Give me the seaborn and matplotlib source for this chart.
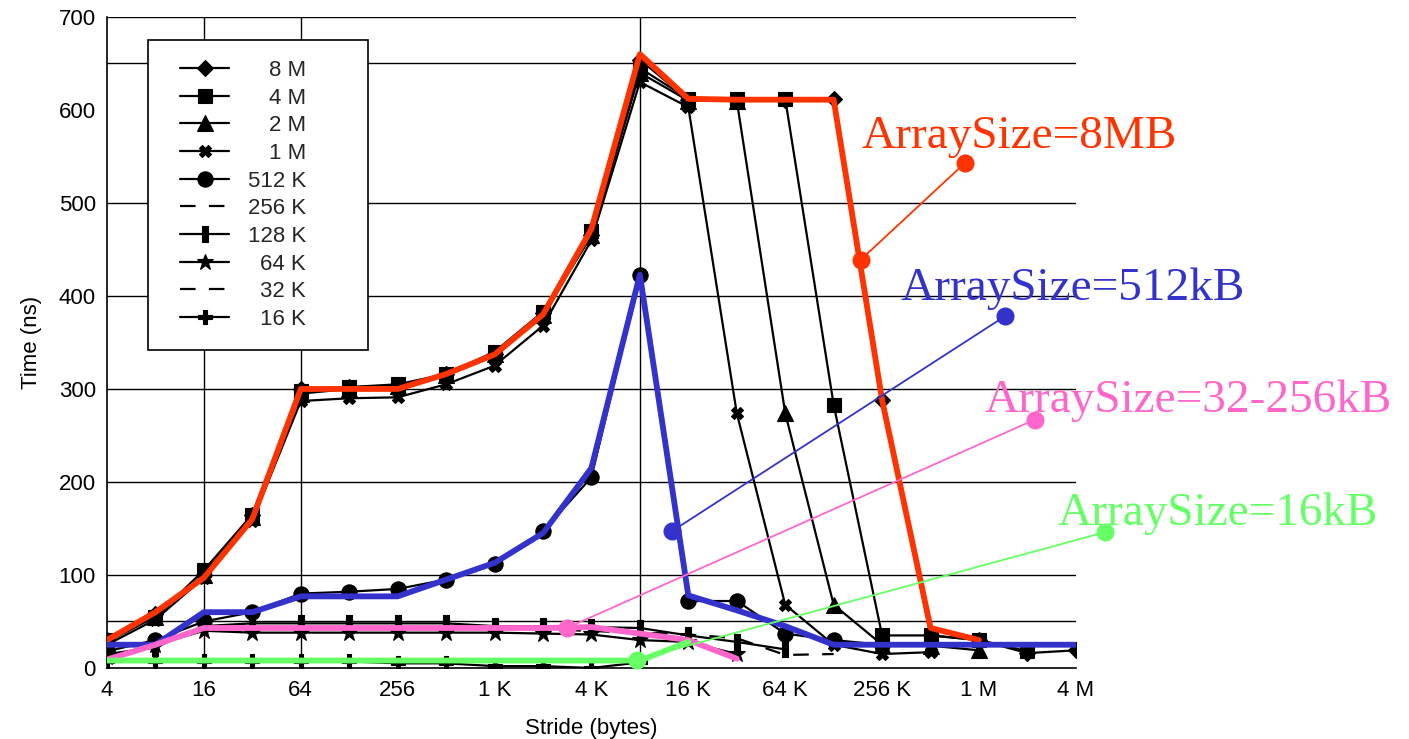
import matplotlib
matplotlib.use("Agg")
import matplotlib.pyplot as plt
import seaborn as sns
import pandas as pd
from matplotlib.path import Path
from matplotlib.lines import Line2D
from matplotlib.legend_handler import HandlerLine2D

# ---------------- data ----------------
strides = [4, 8, 16, 32, 64, 128, 256, 512, 1024, 2048, 4096, 8192, 16384, 32768,
           65536, 131072, 262144, 524288, 1048576, 2097152, 4194304]
tick_labels = ["4", "", "16", "", "64", "", "256", "", "1 K", "", "4 K", "", "16 K", "",
               "64 K", "", "256 K", "", "1 M", "", "4 M"]
size_labels = ["8 M", "4 M", "2 M", "1 M", "512 K", "256 K", "128 K", "64 K", "32 K", "16 K"]

t_8M = [30, 58, 100, 165, 300, 302, 303, 316, 338, 382, 465, 654, 611, 611, 611, 612, 288, 35, 30, 16, 19]
t_4M = [30, 55, 105, 165, 298, 302, 305, 316, 340, 383, 470, 645, 612, 612, 612, 283, 35, 35, 30, 18]
t_2M = [28, 55, 100, 162, 295, 300, 303, 315, 338, 380, 465, 640, 610, 610, 274, 68, 25, 24, 19]
t_1M = [25, 52, 97, 158, 287, 290, 291, 305, 325, 368, 460, 630, 603, 274, 68, 25, 15, 17]
t_512K = [18, 30, 50, 60, 80, 82, 85, 95, 112, 147, 205, 422, 72, 72, 37, 30, 25]
t_256K = [12, 25, 42, 42, 42, 42, 42, 42, 42, 42, 40, 38, 36, 32, 14, 15]
t_128K = [15, 22, 45, 48, 48, 48, 48, 48, 45, 45, 44, 43, 35, 28, 20]
t_64K = [12, 25, 40, 38, 38, 38, 38, 38, 38, 37, 36, 30, 28, 15]
t_32K = [12, 25, 42, 43, 43, 43, 43, 43, 42, 42, 40, 38, 36]
t_16K = [8, 8, 8, 8, 7, 7, 5, 5, 2, 2, 0, 6]

# hand-drawn highlight curves
hl_8MB = [30, 60, 97, 160, 300, 300, 300, 316, 337, 380, 472, 660, 612, 611, 611, 611, 288, 43, 30]
hl_512kB = [25, 25, 60, 60, 77, 77, 77, 95, 113, 145, 215, 423, 78, 62, 45, 25, 25, 25, 25, 25, 25]
hl_32_256kB = [9, 25, 43, 43, 43, 43, 43, 43, 43, 43, 44, 37, 30, 10]
hl_16kB = [8, 8, 8, 8, 8, 8, 8, 8, 8, 8, 8, 8, 28]

# callouts
callout_labels = ["ArraySize=8MB", "ArraySize=512kB", "ArraySize=32-256kB", "ArraySize=16kB"]
callout_anchor_x = [2 ** 17.56, 2 ** 13.66, 2 ** 11.49, 2 ** 12.94]
callout_anchor_y = [439, 147, 43, 9]
callout_end_x = [2 ** 19.71, 2 ** 20.53, 2 ** 21.15, 2 ** 22.6]
callout_end_y = [543, 378, 267, 146]
callout_text_x = [2 ** 17.58, 2 ** 18.37, 2 ** 20.12, 2 ** 21.61]
callout_text_y = [559, 396, 275, 154]

# ---------------- style ----------------
sns.set_theme(style="white")
plt.rcParams["font.family"] = ["Liberation Sans", "DejaVu Sans"]

fig = plt.figure(figsize=(14.09, 7.39), dpi=100)
ax = fig.add_axes([0.0759, 0.0961, 0.6877, 0.881])

rect = Path([(-0.45, -1), (0.45, -1), (0.45, 1), (-0.45, 1), (-0.45, -1)],
            [Path.MOVETO, Path.LINETO, Path.LINETO, Path.LINETO, Path.CLOSEPOLY])

series = [t_8M, t_4M, t_2M, t_1M, t_512K, t_256K, t_128K, t_64K, t_32K, t_16K]
markers = ["D", "s", "^", "X", "o", None, rect, "*", None, "P"]
msizes = [8, 10, 11, 9, 11, 0, 11, 12, 0, 10]
dash = (0, (7, 6))
styles = ["-", "-", "-", "-", "-", dash, "-", "-", dash, "-"]

for vals, lab, mk, ms, ls in zip(series, size_labels, markers, msizes, styles):
    df = pd.DataFrame({"stride": strides[:len(vals)], "ns": vals})
    kw = dict(color="black", lw=1.6, linestyle=ls, label=lab, zorder=2)
    if mk is not None:
        kw.update(marker=mk, markersize=ms, markeredgecolor="black",
                  markerfacecolor="black", markeredgewidth=0.8)
    sns.lineplot(data=df, x="stride", y="ns", ax=ax, estimator=None, sort=False, **kw)

hl_colors = ["#ff3300", "#3333cc", "#ff66cc", "#66ff66"]
for vals, c in zip([hl_8MB, hl_512kB, hl_32_256kB, hl_16kB], hl_colors):
    df = pd.DataFrame({"stride": strides[:len(vals)], "ns": vals})
    sns.lineplot(data=df, x="stride", y="ns", ax=ax, estimator=None, sort=False,
                 color=c, lw=4.2, label="_nolegend_", zorder=3)

for i, c in enumerate(hl_colors):
    ax.plot([callout_anchor_x[i], callout_end_x[i]], [callout_anchor_y[i], callout_end_y[i]],
            color=c, lw=1.3, marker="o", markersize=12, zorder=4, clip_on=False)
    ax.text(callout_text_x[i], callout_text_y[i], callout_labels[i], color=c,
            fontsize=34, family=["Liberation Serif", "DejaVu Serif"],
            ha="left", va="baseline", zorder=5, clip_on=False)

# ---------------- axes ----------------
ax.set_xscale("log", base=2)
ax.set_xlim(4, 4194304)
ax.set_ylim(0, 700)
ax.set_xticks(strides)
ax.set_xticklabels(tick_labels)
ax.minorticks_off()
ax.set_yticks(range(0, 701, 100))
ax.tick_params(axis="both", direction="in", colors="black", labelsize=16)
ax.tick_params(axis="x", length=7, width=1, pad=9)
ax.tick_params(axis="y", length=9, width=1, pad=8)

for y in [50, 100, 200, 300, 400, 500, 650, 700]:
    ax.axhline(y, color="black", lw=1.0, zorder=0.5)
for x in [16, 64, 8192]:
    ax.axvline(x, color="black", lw=1.0, zorder=0.5)

for s in ["top", "right"]:
    ax.spines[s].set_visible(False)
for s in ["left", "bottom"]:
    ax.spines[s].set_color("black")
    ax.spines[s].set_linewidth(1.2)

ax.set_xlabel("Stride (bytes)", fontsize=16, color="black", labelpad=12)
ax.set_ylabel("Time (ns)", fontsize=16, color="black", labelpad=12)
ax.grid(False)

leg = ax.legend(loc="upper left", bbox_to_anchor=(0.0423, 0.9647, 0.227, 0.0),
                mode="expand", borderaxespad=0, fontsize=16, frameon=True,
                fancybox=False, edgecolor="black", framealpha=1,
                handlelength=2.75, handletextpad=0.85, labelspacing=0.3,
                borderpad=0.9, handler_map={Line2D: HandlerLine2D(xpad=0.55)})
leg.get_frame().set_linewidth(1.2)
renderer = fig.canvas.get_renderer()
widths = [t.get_window_extent(renderer).width for t in leg.get_texts()]
shift = max(widths)
for t, w in zip(leg.get_texts(), widths):
    t.set_position((shift - w, 0))

fig.savefig("out.png", dpi=100)
